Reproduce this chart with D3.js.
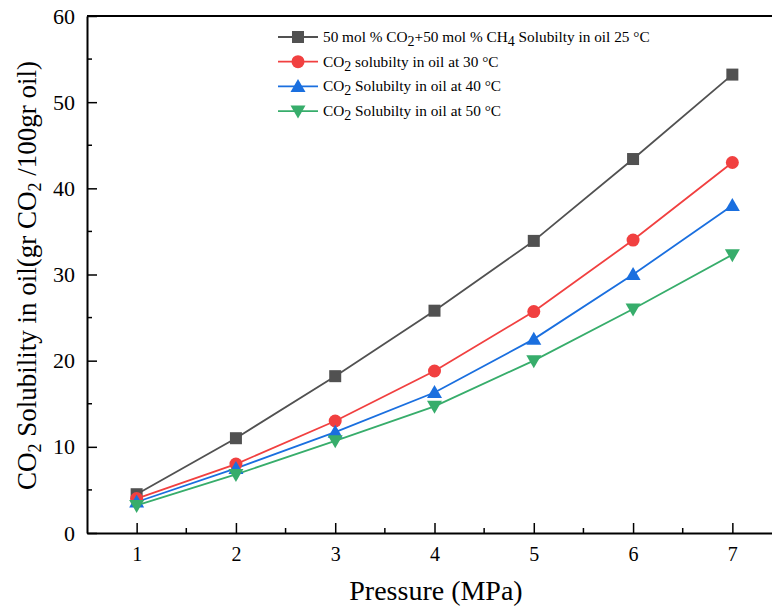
<!DOCTYPE html>
<html>
<head>
    <script src="https://cdnjs.cloudflare.com/ajax/libs/d3/7.8.5/d3.min.js"></script>
    <style>
        body { margin: 0; background: #fff; }
        .axis path, .axis line { stroke: #000; }
    </style>
</head>
<body>
    <div id="chart"></div>
    <script>
        const width = 772;
        const height = 608;
        const serif = "Liberation Serif";

        // data
        const pressure = [1, 2, 3, 4, 5, 6, 7];
        const mix25 = [4.5, 11.0, 18.2, 25.8, 33.9, 43.4, 53.2];
        const co2at30 = [4.0, 8.0, 13.0, 18.8, 25.7, 34.0, 43.0];
        const co2at40 = [3.6, 7.5, 11.7, 16.3, 22.5, 30.0, 38.0];
        const co2at50 = [3.2, 6.8, 10.7, 14.7, 20.0, 26.0, 32.3];
        const yTicks = [0, 10, 20, 30, 40, 50, 60];

        const series = [
            { values: mix25, color: "#515151", shape: "square",
              label: ["50 mol % CO", "2", "+50 mol % CH", "4", " Solubilty in oil 25 °C"] },
            { values: co2at30, color: "#F14040", shape: "circle",
              label: ["CO", "2", " solubilty in oil at 30 °C"] },
            { values: co2at40, color: "#1A6FDF", shape: "up",
              label: ["CO", "2", " Solubilty in oil at 40 °C"] },
            { values: co2at50, color: "#37AD6B", shape: "down",
              label: ["CO", "2", " Solubilty in oil at 50 °C"] }
        ];

        const margin = { left: 87, top: 16, right: -10, bottom: 75 };
        const x = d3.scaleLinear().domain([0.5, 7.5]).range([margin.left, width - margin.right]);
        const y = d3.scaleLinear().domain([0, 60]).range([height - margin.bottom, margin.top]);

        const svg = d3.select("#chart").append("svg")
            .attr("width", width)
            .attr("height", height)
            .attr("font-family", serif);

        // frame top
        svg.append("line")
            .attr("x1", x(0.5)).attr("x2", width)
            .attr("y1", y(60)).attr("y2", y(60))
            .attr("stroke", "#000").attr("stroke-width", 2);

        // minor ticks
        const minorX = d3.range(1.5, 7.5, 1);
        svg.selectAll(".minx").data(minorX).enter().append("line")
            .attr("x1", d => x(d)).attr("x2", d => x(d))
            .attr("y1", y(0)).attr("y2", y(0) - 5)
            .attr("stroke", "#000").attr("stroke-width", 1.5);
        const minorY = d3.range(5, 60, 10);
        svg.selectAll(".miny").data(minorY).enter().append("line")
            .attr("x1", x(0.5)).attr("x2", x(0.5) + 5)
            .attr("y1", d => y(d)).attr("y2", d => y(d))
            .attr("stroke", "#000").attr("stroke-width", 1.5);

        const xAxis = svg.append("g")
            .attr("class", "axis")
            .attr("transform", `translate(0,${y(0)})`)
            .call(d3.axisBottom(x).tickValues(pressure).tickFormat(d3.format("d"))
                .tickSizeInner(-10).tickSizeOuter(0).tickPadding(14));
        xAxis.attr("font-family", serif);
        xAxis.select(".domain").attr("stroke-width", 2);
        xAxis.selectAll(".tick line").attr("stroke-width", 1.5);
        xAxis.selectAll("text").attr("font-family", serif).attr("font-size", 20);

        const yAxis = svg.append("g")
            .attr("class", "axis")
            .attr("transform", `translate(${x(0.5)},0)`)
            .call(d3.axisLeft(y).tickValues(yTicks).tickFormat(d3.format("d"))
                .tickSizeInner(-10).tickSizeOuter(0).tickPadding(12));
        yAxis.attr("font-family", serif);
        yAxis.select(".domain").attr("stroke-width", 2);
        yAxis.selectAll(".tick line").attr("stroke-width", 1.5);
        yAxis.selectAll("text").attr("font-family", serif).attr("font-size", 22);

        // axis titles
        svg.append("text")
            .attr("x", 436)
            .attr("y", 600)
            .attr("text-anchor", "middle")
            .attr("font-family", serif)
            .attr("font-size", 28)
            .text("Pressure (MPa)");

        const yt = svg.append("text")
            .attr("transform", `translate(36,${(488 + 63) / 2}) rotate(-90)`)
            .attr("text-anchor", "middle")
            .attr("font-family", serif)
            .attr("font-size", 27);
        yt.append("tspan").text("CO");
        yt.append("tspan").attr("baseline-shift", "-30%").attr("font-size", 18).text("2");
        yt.append("tspan").text(" Solubility in oil(gr CO");
        yt.append("tspan").attr("baseline-shift", "-30%").attr("font-size", 18).text("2");
        yt.append("tspan").text(" /100gr oil)");

        function drawMarker(g, shape, color, cx, cy) {
            if (shape === "square") {
                g.append("rect").attr("x", cx - 6).attr("y", cy - 6)
                    .attr("width", 12).attr("height", 12).attr("fill", color);
            } else if (shape === "circle") {
                g.append("circle").attr("cx", cx).attr("cy", cy).attr("r", 6.5).attr("fill", color);
            } else {
                const s = shape === "up" ? 1 : -1;
                g.append("path")
                    .attr("d", `M${cx},${cy - 7.5 * s} L${cx + 7.5},${cy + 5.5 * s} L${cx - 7.5},${cy + 5.5 * s} Z`)
                    .attr("fill", color);
            }
        }

        const line = d3.line().x((d, i) => x(pressure[i])).y(d => y(d));

        series.forEach(s => {
            svg.append("path")
                .datum(s.values)
                .attr("fill", "none")
                .attr("stroke", s.color)
                .attr("stroke-width", 1.8)
                .attr("d", line);
        });
        series.forEach(s => {
            const g = svg.append("g");
            s.values.forEach((v, i) => drawMarker(g, s.shape, s.color, x(pressure[i]), y(v)));
        });

        // legend
        const legend = svg.append("g");
        series.forEach((s, i) => {
            const ly = 37 + i * 24.7;
            const g = legend.append("g");
            g.append("line").attr("x1", 278).attr("x2", 318).attr("y1", ly).attr("y2", ly)
                .attr("stroke", s.color).attr("stroke-width", 1.8);
            drawMarker(g, s.shape, s.color, 298, ly);
            const t = g.append("text").attr("x", 323).attr("y", ly + 5)
                .attr("font-family", serif).attr("font-size", 15.3);
            s.label.forEach((part, j) => {
                if (j % 2 === 1) {
                    t.append("tspan").attr("baseline-shift", "-30%").attr("font-size", 14).text(part);
                } else {
                    t.append("tspan").text(part);
                }
            });
        });
    </script>
</body>
</html>
